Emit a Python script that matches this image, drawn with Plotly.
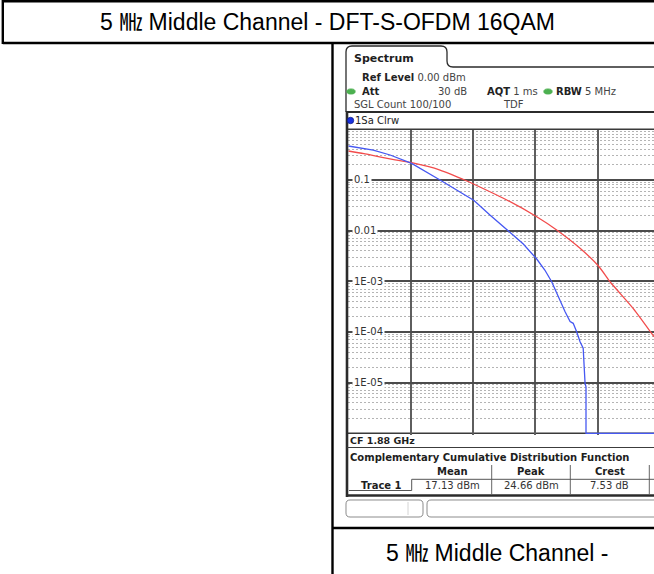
import plotly.graph_objects as go
import math

W, H = 654, 574

# Measured CCDF of the DFT-S-OFDM 16QAM signal (level above mean power in dB, probability)
trace_db = [0.0, 0.80, 1.34, 2.03, 2.94, 3.47, 4.03, 4.54, 5.08, 5.61, 6.04, 6.30,
            6.52, 6.68, 6.84, 6.95, 7.11, 7.21, 7.32, 7.43, 7.53, 7.56, 7.59, 7.62,
            7.62, 9.80]
trace_prob = [0.468, 0.390, 0.311, 0.213, 0.0998, 0.0634, 0.0394, 0.0204, 0.0103,
              0.00545, 0.00275, 0.00167, 0.00098, 5.8e-4, 3.68e-4, 2.51e-4, 1.60e-4,
              1.48e-4, 1.01e-4, 6.4e-5, 4.8e-5, 2.06e-5, 9.7e-6, 8.3e-6, 1e-6, 1e-6]

# Gaussian (AWGN) reference curve
ref_db = [0.0, 0.5, 1.0, 1.5, 2.03, 2.94, 3.80, 4.03, 5.08, 6.04, 6.68, 7.43, 8.04,
          8.39, 9.13, 9.80]
ref_prob = [0.373, 0.33, 0.285, 0.25, 0.219, 0.157, 0.0955, 0.0822, 0.0403, 0.0188,
            0.0103, 0.00448, 0.00194, 9.8e-4, 2.93e-4, 8.07e-5]

# Axis grid definitions
x_grid_db = [2, 4, 6, 8]
y_decades = [1e-1, 1e-2, 1e-3, 1e-4, 1e-5]
y_labels = ["0.1", "0.01", "1E-03", "1E-04", "1E-05"]
y_minor = [k * 10.0 ** n for n in range(-6, 0) for k in range(2, 10)]

# Result table
table_cols = ["Mean", "Peak", "Crest"]
table_vals = ["17.13 dBm", "24.66 dBm", "7.53 dB"]

title_text = "5 ㎒ Middle Channel - DFT-S-OFDM 16QAM"
footer_text = "5 ㎒ Middle Channel -"


def px(x):
    return x / W


def py(y):
    return 1 - y / H


def path(cmds):
    out = []
    for c in cmds:
        if isinstance(c, str):
            out.append(c)
        else:
            out.append(f"{px(c[0]):.5f},{py(c[1]):.5f}")
    return " ".join(out)


shapes = []


def line(x0, y0, x1, y1, color="#000", width=1.0, layer="above", dash=None):
    shapes.append(dict(type="line", xref="paper", yref="paper",
                       x0=px(x0), y0=py(y0), x1=px(x1), y1=py(y1), layer=layer,
                       line=dict(color=color, width=width, dash=dash)))


def pth(cmds, color, width, fill=None, layer="above"):
    d = dict(type="path", xref="paper", yref="paper", path=path(cmds), layer=layer,
             line=dict(color=color, width=width))
    if fill:
        d["fillcolor"] = fill
    shapes.append(d)


def ellipse(cx, cy, rx, ry, fill, edge=None):
    shapes.append(dict(type="circle", xref="paper", yref="paper",
                       x0=px(cx - rx), x1=px(cx + rx), y0=py(cy + ry), y1=py(cy - ry),
                       fillcolor=fill, line=dict(color=edge or fill, width=0.8)))


annotations = []


def text(x, y, s, size=10, color="#222", anchor="left", family="DejaVu Sans",
         bg=None):
    a = dict(xref="paper", yref="paper", x=px(x), y=py(y), text=s, showarrow=False,
             xanchor=anchor, yanchor="middle", borderpad=0,
             font=dict(family=family, size=size, color=color))
    if bg:
        a["bgcolor"] = bg
    annotations.append(a)


# ---- document table frame ----
line(2.8, 1.2, 654, 1.2, width=2.4)
line(2.8, 43, 654, 43, width=2.4)
line(2.8, 0, 2.8, 44, width=2.4)
line(332.5, 43, 332.5, 574, width=2.4)
line(332.5, 528, 654, 528, width=2.4)

doc_font = "Liberation Sans, Arial, Noto Sans CJK KR"
text(327.5, 22.5, title_text, size=23, color="#000", anchor="center", family=doc_font)
text(385, 553, footer_text, size=23, color="#000", family=doc_font)

# ---- analyzer screen ----
frame = "#2b2b2b"
pth(["M", (346, 112), "L", (346, 52), "Q", (346, 46), (352, 46), "L", (441, 46),
     "Q", (447, 46), (447, 52), "L", (447, 61), "Q", (447, 67), (453, 67),
     "L", (654, 67)], frame, 1.3)
text(353, 58, "<b>Spectrum</b>", size=11, color="#1e1e1e")

text(361, 77.5, "<b>Ref Level</b> <span style='color:#444'>0.00 dBm</span>")
ellipse(351, 91.5, 4.2, 2.6, "#4cb050")
text(361, 91.5, "<b>Att</b>")
text(468, 91.5, "30 dB", color="#444", anchor="right")
text(486, 91.5, "<b>AQT</b> <span style='color:#444'>1 ms</span>")
ellipse(548, 91.5, 4.2, 2.6, "#4cb050")
text(555, 91.5, "<b>RBW</b> <span style='color:#444'>5 MHz</span>")
text(353, 104.5, "SGL Count 100/100", color="#444")
text(502, 104.5, "TDF", color="#444")

line(346, 112, 654, 112, color=frame, width=2)
line(347, 111, 347, 497, color=frame, width=2.6)
ellipse(350.5, 120.5, 3.2, 3.2, "#1a30e0", edge="#10208a")
text(354.5, 121, "1Sa Clrw", color="#222")

line(348, 129.3, 654, 129.3, color="#3a3a3a", width=1.5)
line(348, 433.3, 654, 433.3, color="#3a3a3a", width=1.5, layer="between")

# decade labels sit inside the plot on a white patch
for v, lab in zip(y_decades, y_labels):
    annotations.append(dict(xref="paper", yref="y", x=px(351.5), y=math.log10(v),
                            text=lab, showarrow=False, xanchor="left",
                            yanchor="middle", bgcolor="white", borderpad=1,
                            font=dict(family="DejaVu Sans", size=10, color="#333")))

# status line and result table
text(348.5, 440.2, "<b>CF 1.88 GHz</b>", size=9.5, color="#1e1e1e")
line(347, 447.5, 654, 447.5, color="#3c3c3c", width=1.2)
text(348.5, 457.5, "<b>Complementary Cumulative Distribution Function</b>",
     size=10, color="#1e1e1e")

col_edges = [413.0, 491.7, 570.3, 649.3]
for xe in col_edges[1:]:
    line(xe, 465, xe, 494, color="#666", width=1)
for i, (c, v) in enumerate(zip(table_cols, table_vals)):
    xc = (col_edges[i] + col_edges[i + 1]) / 2
    text(xc, 471.5, f"<b>{c}</b>", color="#1e1e1e", anchor="center")
    text(xc, 485.5, v, color="#333", anchor="center")
pth(["M", (349, 490.5), "L", (411.7, 490.5), "L", (411.7, 479.3), "L", (654, 479.3)],
    "#555", 1)
text(381.5, 485.5, "<b>Trace 1</b>", color="#1e1e1e", anchor="center")
line(346, 495.5, 654, 495.5, color=frame, width=2.6)

# softkey bar
pth(["M", (350, 500), "L", (419, 500), "Q", (423, 500), (423, 504), "L", (423, 513),
     "Q", (423, 517), (419, 517), "L", (350, 517), "Q", (346, 517), (346, 513),
     "L", (346, 504), "Q", (346, 500), (350, 500), "Z"], "#8c8c8c", 1)
line(408, 502, 408, 515, color="#d4d4d4", width=1)
pth(["M", (660, 500), "L", (431, 500), "Q", (427, 500), (427, 504), "L", (427, 513),
     "Q", (427, 517), (431, 517), "L", (660, 517)], "#8c8c8c", 1)

fig = go.Figure()
fig.add_trace(go.Scatter(x=ref_db, y=ref_prob, mode="lines",
                         line=dict(color="#f24c4c", width=1.3, shape="spline",
                                   smoothing=0.6)))
fig.add_trace(go.Scatter(x=trace_db, y=trace_prob, mode="lines",
                         line=dict(color="#4658f2", width=1.3)))

y_top, y_bot = 129.3, 434.5
fig.update_layout(
    width=W, height=H, margin=dict(l=0, r=0, t=0, b=0, pad=0),
    paper_bgcolor="white", plot_bgcolor="white", showlegend=False,
    hovermode=False,
    xaxis=dict(domain=[px(348.3), 1.0], range=[0, 9.8], tickvals=x_grid_db,
               showticklabels=False, ticks="", showgrid=True, gridcolor="#5e5e5e",
               gridwidth=1.5, zeroline=False, showline=False, fixedrange=True),
    yaxis=dict(domain=[py(y_bot), py(y_top)], type="log", range=[-6.024, 0],
               tickvals=y_decades, showticklabels=False, ticks="", showgrid=True,
               gridcolor="#4c4c4c", gridwidth=1.5, zeroline=False, showline=False,
               fixedrange=True,
               minor=dict(tickvals=y_minor, showgrid=True, gridcolor="#b4b4b4",
                          gridwidth=1, griddash="2px,2px", ticks="")),
    shapes=shapes, annotations=annotations,
)

fig.write_html("out.html")
